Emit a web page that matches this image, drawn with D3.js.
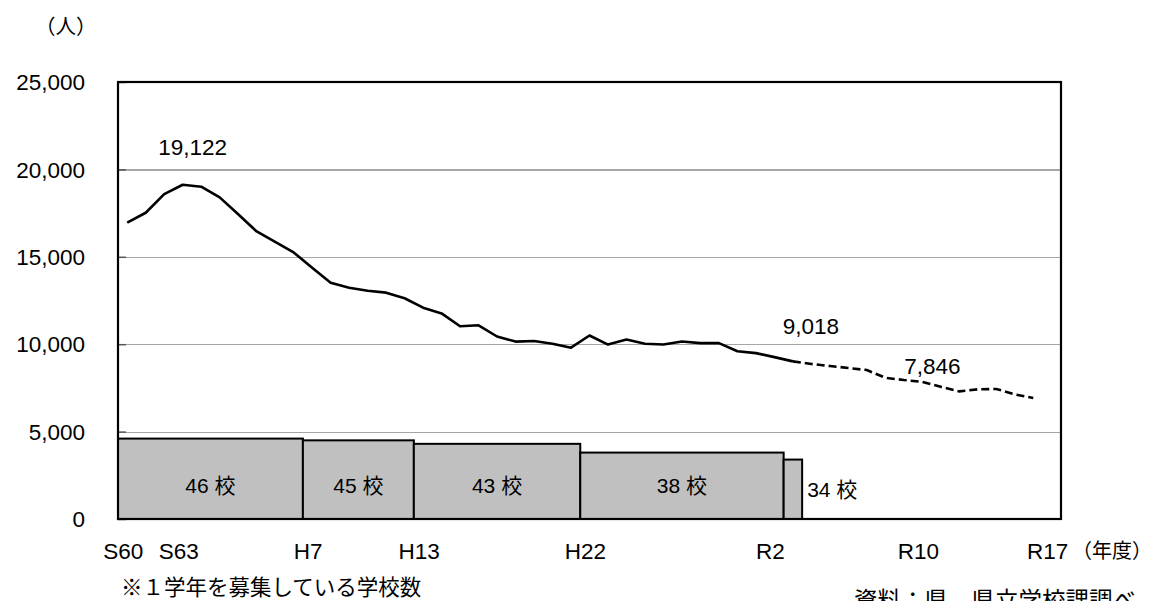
<!DOCTYPE html>
<html lang="ja">
<head>
<meta charset="utf-8">
<script src="https://cdn.jsdelivr.net/npm/d3@7"></script>
<style>
  html, body { margin: 0; padding: 0; background: #fff; }
  svg { display: block; }
  text { font-family: "Liberation Sans", "Noto Sans CJK JP", sans-serif; fill: #000; }
  .jp { font-family: "Noto Sans CJK JP", sans-serif; }
</style>
</head>
<body>
<svg id="chart" width="1155" height="601"></svg>
<script>
// Fiscal years on the category axis (S60 = 1985 ... R17 = 2035)
const years = [1985, 1986, 1987, 1988, 1989, 1990, 1991, 1992, 1993, 1994,
  1995, 1996, 1997, 1998, 1999, 2000, 2001, 2002, 2003, 2004,
  2005, 2006, 2007, 2008, 2009, 2010, 2011, 2012, 2013, 2014,
  2015, 2016, 2017, 2018, 2019, 2020, 2021, 2022, 2023, 2024,
  2025, 2026, 2027, 2028, 2029, 2030, 2031, 2032, 2033, 2034, 2035];

// Tick labels under the axis (Japanese era years)
const tickYears  = [1985, 1988, 1995, 2001, 2010, 2020, 2028, 2035];
const tickLabels = ["S60", "S63", "H7", "H13", "H22", "R2", "R10", "R17"];

// Actual number of students, 1985–2021
const actualYears = [1985, 1986, 1987, 1988, 1989, 1990, 1991, 1992, 1993, 1994,
  1995, 1996, 1997, 1998, 1999, 2000, 2001, 2002, 2003, 2004,
  2005, 2006, 2007, 2008, 2009, 2010, 2011, 2012, 2013, 2014,
  2015, 2016, 2017, 2018, 2019, 2020, 2021];
const actualValues = [16950, 17520, 18590, 19122, 19010, 18400, 17430, 16450, 15860, 15250,
  14380, 13520, 13230, 13060, 12950, 12630, 12090, 11760, 11030, 11080,
  10440, 10150, 10180, 10030, 9800, 10500, 9980, 10270, 10030, 9980,
  10150, 10060, 10060, 9600, 9490, 9260, 9018];

// Projected number of students, 2021–2034
const projYears  = [2021, 2022, 2023, 2024, 2025, 2026, 2027, 2028, 2029, 2030, 2031, 2032, 2033, 2034];
const projValues = [9018, 8870, 8750, 8640, 8520, 8080, 7950, 7846, 7560, 7300, 7420, 7440, 7130, 6920];

// Labelled values
const labelYears  = [1988, 2021, 2028];
const labelValues = [19122, 9018, 7846];

// Number of schools recruiting first-year students, by period
const schoolFrom  = [1985, 1995, 2001, 2010, 2021];
const schoolTo    = [1994, 2000, 2009, 2020, 2021];
const schoolCount = [46, 45, 43, 38, 34];

// Y axis ticks
const yTicks = [0, 5000, 10000, 15000, 20000, 25000];

// ---- layout ----
const plot = { left: 118, right: 1061, top: 82, bottom: 519 };
const peoplePerSchool = 100;   // school bars share the people axis
const labelOffsets = [[10, -38], [18, -35], [10, -16]];

const svg = d3.select("#chart");

const x = d3.scaleBand().domain(years).range([plot.left, plot.right]).paddingInner(0).paddingOuter(0);
const cx = yr => x(yr) + x.bandwidth() / 2;
const y = d3.scaleLinear().domain([0, 25000]).range([plot.bottom, plot.top]);

// gridlines with short inner ticks
const yAxis = d3.axisLeft(y).tickValues(yTicks).tickSize(-(plot.right - plot.left)).tickFormat("");
const grid = svg.append("g").attr("transform", `translate(${plot.left},0)`).call(yAxis);
grid.select(".domain").remove();
grid.selectAll(".tick line").attr("stroke", "#a6a6a6").attr("stroke-width", 1.2).attr("shape-rendering", "crispEdges");
grid.selectAll(".tick").append("line")
  .attr("x1", 0).attr("x2", 8).attr("stroke", "#555").attr("stroke-width", 1.5);

// y tick labels
svg.append("g").selectAll("text").data(yTicks).join("text")
  .attr("x", 85).attr("y", d => y(d)).attr("dy", "0.36em")
  .attr("text-anchor", "end").attr("font-size", 22.5)
  .text(d => d3.format(",")(d));

// school bars
const bars = schoolCount.map((n, i) => ({ from: schoolFrom[i], to: schoolTo[i], n }));
svg.append("g").selectAll("rect").data(bars).join("rect")
  .attr("x", d => x(d.from))
  .attr("width", d => x(d.to) + x.bandwidth() - x(d.from))
  .attr("y", d => y(d.n * peoplePerSchool))
  .attr("height", d => y(0) - y(d.n * peoplePerSchool))
  .attr("fill", "#c0c0c0").attr("stroke", "#000").attr("stroke-width", 2);

svg.append("g").selectAll("text").data(bars).join("text")
  .attr("x", (d, i) => i === bars.length - 1 ? x(d.to) + x.bandwidth() + 5 : (x(d.from) + x(d.to) + x.bandwidth()) / 2)
  .attr("y", (d, i) => i === bars.length - 1 ? 489 : 485)
  .attr("dy", "0.36em")
  .attr("text-anchor", (d, i) => i === bars.length - 1 ? "start" : "middle")
  .attr("font-size", 21)
  .text(d => `${d.n} 校`);

// plot frame
svg.append("rect")
  .attr("x", plot.left).attr("y", plot.top)
  .attr("width", plot.right - plot.left).attr("height", plot.bottom - plot.top)
  .attr("fill", "none").attr("stroke", "#000").attr("stroke-width", 2.2);

// student lines
const line = d3.line().x(d => cx(d[0])).y(d => y(d[1]));
svg.append("path")
  .datum(actualYears.map((yr, i) => [yr, actualValues[i]]))
  .attr("d", line).attr("fill", "none").attr("stroke", "#000")
  .attr("stroke-width", 2.6).attr("stroke-linejoin", "round");
svg.append("path")
  .datum(projYears.map((yr, i) => [yr, projValues[i]]))
  .attr("d", line).attr("fill", "none").attr("stroke", "#000")
  .attr("stroke-width", 2.6).attr("stroke-dasharray", "8,4");

// value labels
svg.append("g").selectAll("text").data(labelYears).join("text")
  .attr("x", (d, i) => cx(d) + labelOffsets[i][0])
  .attr("y", (d, i) => y(labelValues[i]) + labelOffsets[i][1])
  .attr("dy", "0.36em").attr("text-anchor", "middle").attr("font-size", 22.5)
  .text((d, i) => d3.format(",")(labelValues[i]));

// x tick labels
svg.append("g").selectAll("text").data(tickYears).join("text")
  .attr("x", d => cx(d) - 4).attr("y", 551).attr("dy", "0.36em")
  .attr("text-anchor", "middle").attr("font-size", 22.5)
  .text((d, i) => tickLabels[i]);

// titles and notes
svg.append("text").attr("class", "jp").attr("x", 35).attr("y", 27).attr("dy", "0.36em")
  .attr("font-size", 20.5).text("（人）");
svg.append("text").attr("class", "jp").attr("x", 1072).attr("y", 551).attr("dy", "0.36em")
  .attr("font-size", 20).text("（年度）");
svg.append("text").attr("class", "jp").attr("x", 121).attr("y", 587).attr("dy", "0.36em")
  .attr("font-size", 21.5).text("※１学年を募集している学校数");
svg.append("text").attr("class", "jp").attr("x", 854).attr("y", 601).attr("dy", "0.36em")
  .attr("font-size", 23.5).text("資料：県　県立学校課調べ");
</script>
</body>
</html>
